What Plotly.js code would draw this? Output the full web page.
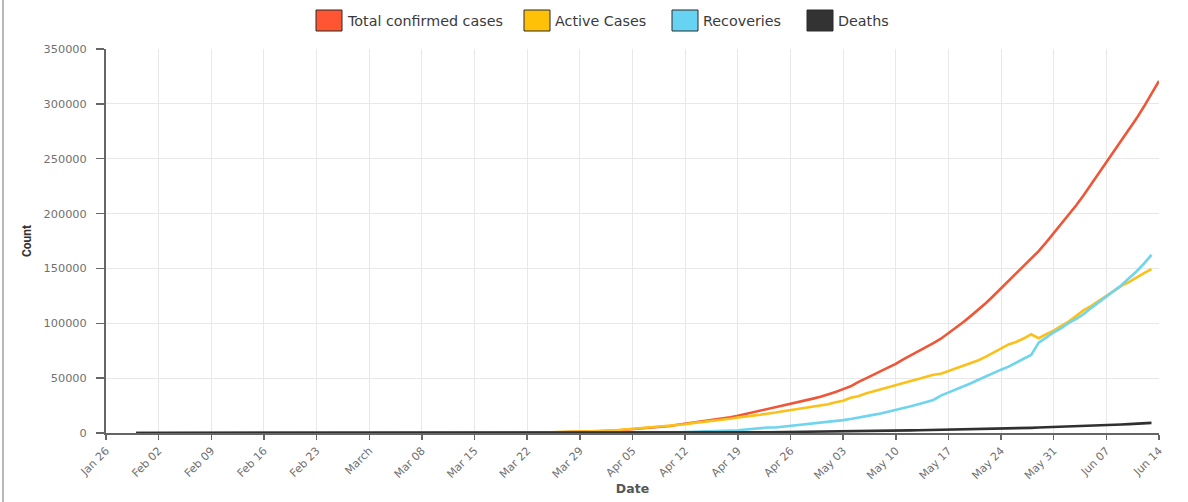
<!DOCTYPE html>
<html><head><meta charset="utf-8">
<script src="https://cdn.plot.ly/plotly-3.0.1.min.js"></script>
<style>html,body{margin:0;padding:0;background:#fff}#chart{width:1188px;height:502px}</style>
</head><body><div id="chart"></div>
<script>
const dates = ["2020-01-30","2020-01-31",
"2020-02-01","2020-02-02","2020-02-03","2020-02-04","2020-02-05","2020-02-06","2020-02-07","2020-02-08","2020-02-09","2020-02-10","2020-02-11","2020-02-12","2020-02-13","2020-02-14","2020-02-15","2020-02-16","2020-02-17","2020-02-18","2020-02-19","2020-02-20","2020-02-21","2020-02-22","2020-02-23","2020-02-24","2020-02-25","2020-02-26","2020-02-27","2020-02-28","2020-02-29",
"2020-03-01","2020-03-02","2020-03-03","2020-03-04","2020-03-05","2020-03-06","2020-03-07","2020-03-08","2020-03-09","2020-03-10","2020-03-11","2020-03-12","2020-03-13","2020-03-14","2020-03-15","2020-03-16","2020-03-17","2020-03-18","2020-03-19","2020-03-20","2020-03-21","2020-03-22","2020-03-23","2020-03-24","2020-03-25","2020-03-26","2020-03-27","2020-03-28","2020-03-29","2020-03-30","2020-03-31",
"2020-04-01","2020-04-02","2020-04-03","2020-04-04","2020-04-05","2020-04-06","2020-04-07","2020-04-08","2020-04-09","2020-04-10","2020-04-11","2020-04-12","2020-04-13","2020-04-14","2020-04-15","2020-04-16","2020-04-17","2020-04-18","2020-04-19","2020-04-20","2020-04-21","2020-04-22","2020-04-23","2020-04-24","2020-04-25","2020-04-26","2020-04-27","2020-04-28","2020-04-29","2020-04-30",
"2020-05-01","2020-05-02","2020-05-03","2020-05-04","2020-05-05","2020-05-06","2020-05-07","2020-05-08","2020-05-09","2020-05-10","2020-05-11","2020-05-12","2020-05-13","2020-05-14","2020-05-15","2020-05-16","2020-05-17","2020-05-18","2020-05-19","2020-05-20","2020-05-21","2020-05-22","2020-05-23","2020-05-24","2020-05-25","2020-05-26","2020-05-27","2020-05-28","2020-05-29","2020-05-30","2020-05-31",
"2020-06-01","2020-06-02","2020-06-03","2020-06-04","2020-06-05","2020-06-06","2020-06-07","2020-06-08","2020-06-09","2020-06-10","2020-06-11","2020-06-12","2020-06-13","2020-06-14"];

const confirmed = [1,1,
1,2,3,3,3,3,3,3,3,3,3,3,3,3,3,3,3,3,3,3,3,3,3,3,3,3,3,3,3,
3,5,6,28,30,31,34,39,43,56,62,73,82,102,113,119,142,156,194,244,330,396,499,536,657,727,887,987,1024,1251,1397,
1637,1965,2301,2902,3374,4067,4421,5194,5734,6412,7447,8356,9152,10363,11439,12380,13387,14378,15712,17265,18601,20471,21700,23077,24506,26496,27892,29435,31332,33050,
35043,37336,39980,42533,46433,49391,52952,56342,59662,62939,67152,70756,74281,78003,81970,85940,90927,96169,101139,106750,112359,118447,125101,131868,138845,145380,151767,158333,165799,173763,182143,
190535,198706,207615,216919,226770,236657,246628,256611,266598,276583,286579,297535,308993,320922];

const active = [1,1,
1,2,3,3,3,3,3,3,3,3,3,3,3,3,3,3,3,3,0,0,0,0,0,0,0,0,0,0,
0,2,3,25,27,28,31,36,40,52,58,69,76,90,98,104,125,139,175,219,302,362,456,486,603,665,794,876,901,1117,1238,
1466,1764,2089,2650,3028,3666,3981,4643,5095,5709,6565,7367,7987,8988,9756,10477,11201,11906,12974,14175,14759,15859,16689,17347,18668,19868,20835,21632,22629,23651,
25008,26167,28046,29453,32138,33514,35902,37916,39834,41472,44029,46008,47480,49219,51401,53035,53946,56316,58802,61149,63624,66330,69597,73560,77103,80722,83004,86110,89987,86422,89995,
93322,97581,101497,106737,111972,115942,120406,125381,129917,134168,137448,141842,145779,149348];

const recoveries = [0,0,
0,0,0,0,0,0,0,0,0,0,0,0,0,0,0,0,0,0,3,3,3,3,3,3,3,3,3,3,
3,3,3,3,3,3,3,3,3,4,4,4,5,10,13,13,14,14,15,20,23,27,34,40,43,45,73,87,96,102,124,
133,151,156,184,267,292,326,402,473,504,643,716,857,1036,1306,1489,1749,1992,2231,2547,3252,3960,4325,5012,5063,5804,6185,6869,7696,8325,
8888,9951,10633,11707,12727,14183,15267,16540,17847,19358,20917,22455,24386,26235,27920,30153,34109,36824,39174,42298,45300,48534,51784,54441,57721,60491,64426,67692,71106,82370,86984,
91819,95527,100303,104107,108450,114073,119293,124095,129215,134670,141029,147195,154330,162379];

const deaths = [0,0,
0,0,0,0,0,0,0,0,0,0,0,0,0,0,0,0,0,0,0,0,0,0,0,0,0,0,0,0,
0,0,0,0,0,0,0,0,0,0,0,0,1,2,2,2,3,3,4,5,5,7,9,10,11,17,20,24,27,32,35,
38,50,56,68,79,109,114,149,166,199,239,273,308,339,377,414,437,480,507,543,590,652,686,718,775,824,872,934,1007,1074,
1147,1218,1301,1373,1568,1694,1783,1886,1981,2109,2206,2293,2415,2549,2649,2752,2872,3029,3163,3303,3435,3583,3720,3867,4021,4167,4337,4531,4706,4971,5164,
5394,5598,5815,6075,6348,6642,6929,7135,7466,7745,8102,8498,8884,9195];

const seriesNames = ["Total confirmed cases","Active Cases","Recoveries","Deaths"];
const seriesColors = ["#ef5638","#fbc11a","#6fd4ee","#303030"];
const swatchColors = ["#ff5533","#ffc107","#66d3f3","#333333"];

const tickDates = ["2020-01-26","2020-02-02","2020-02-09","2020-02-16","2020-02-23","2020-03-01","2020-03-08","2020-03-15","2020-03-22","2020-03-29","2020-04-05","2020-04-12","2020-04-19","2020-04-26","2020-05-03","2020-05-10","2020-05-17","2020-05-24","2020-05-31","2020-06-07","2020-06-14"];
const tickLabels = ["Jan 26","Feb 02","Feb 09","Feb 16","Feb 23","March","Mar 08","Mar 15","Mar 22","Mar 29","Apr 05","Apr 12","Apr 19","Apr 26","May 03","May 10","May 17","May 24","May 31","Jun 07","Jun 14"];
const yTicks = [0,50000,100000,150000,200000,250000,300000,350000];
const yTickLabels = ["0","50000","100000","150000","200000","250000","300000","350000"];

const seriesValues = [confirmed, active, recoveries, deaths];

const traces = seriesValues.map((vals, i) => ({
  x: dates, y: vals, type: "scatter", mode: "lines",
  name: seriesNames[i], showlegend: false,
  line: {color: seriesColors[i], width: 2.6},
  hoverinfo: "skip"
}));

// layout geometry (pixels)
const L = 106, R = 29, T = 49, B = 69, W = 1188, H = 502;
const PW = W - L - R, PH = H - T - B;
const px = p => (p - L) / PW;
const py = p => (H - B - p) / PH;

const swLeft = [316, 524, 672, 807];
const shapes = [];
const annotations = [];
seriesNames.forEach((n, i) => {
  shapes.push({type: "rect", xref: "paper", yref: "paper",
    x0: px(swLeft[i]), x1: px(swLeft[i] + 26), y0: py(31), y1: py(10),
    fillcolor: swatchColors[i], line: {color: "#2a2a2a", width: 1}});
  annotations.push({xref: "paper", yref: "paper", x: px(swLeft[i] + 29), y: py(20.5),
    xanchor: "left", yanchor: "middle", showarrow: false, text: n,
    font: {family: "DejaVu Sans, sans-serif", size: 14.3, color: "#3a3a3a"}});
});
// frame line at the left edge
shapes.push({type: "line", xref: "paper", yref: "paper", x0: px(3), x1: px(3), y0: py(H), y1: py(0),
  line: {color: "#a0a0a0", width: 1.5}});

const layout = {
  width: W, height: H,
  margin: {l: L, r: R, t: T, b: B, pad: 0},
  paper_bgcolor: "#fff", plot_bgcolor: "#fff",
  showlegend: false,
  xaxis: {
    type: "date", range: ["2020-01-26", "2020-06-14"],
    tickmode: "array", tickvals: tickDates, ticktext: tickLabels,
    tickangle: -45, ticks: "outside", ticklen: 5, tickwidth: 1.5, tickcolor: "#666",
    showline: true, linecolor: "#666", linewidth: 2,
    showgrid: true, gridcolor: "#e8e8e8", gridwidth: 1, zeroline: false,
    tickfont: {family: "DejaVu Sans, sans-serif", size: 11, color: "#707070"},
    title: {text: "Date", standoff: 3, font: {family: "DejaVu Sans, sans-serif", size: 12.5, color: "#555", weight: "bold"}},
    automargin: false
  },
  yaxis: {
    range: [0, 350000], tickmode: "array", tickvals: yTicks, ticktext: yTickLabels,
    ticks: "outside", ticklen: 8, tickwidth: 1.5, tickcolor: "#666",
    showline: true, linecolor: "#666", linewidth: 2,
    showgrid: true, gridcolor: "#e8e8e8", gridwidth: 1, zeroline: false,
    tickfont: {family: "DejaVu Sans, sans-serif", size: 11.3, color: "#707070"},
    ticklabelstandoff: 7,
    title: {text: "Count", standoff: 9, font: {family: "Roboto, sans-serif", size: 12, color: "#333", weight: "bold"}},
    automargin: false
  },
  shapes: shapes,
  annotations: annotations
};

Plotly.newPlot("chart", traces, layout, {displayModeBar: false, staticPlot: true});
</script>
</body></html>
